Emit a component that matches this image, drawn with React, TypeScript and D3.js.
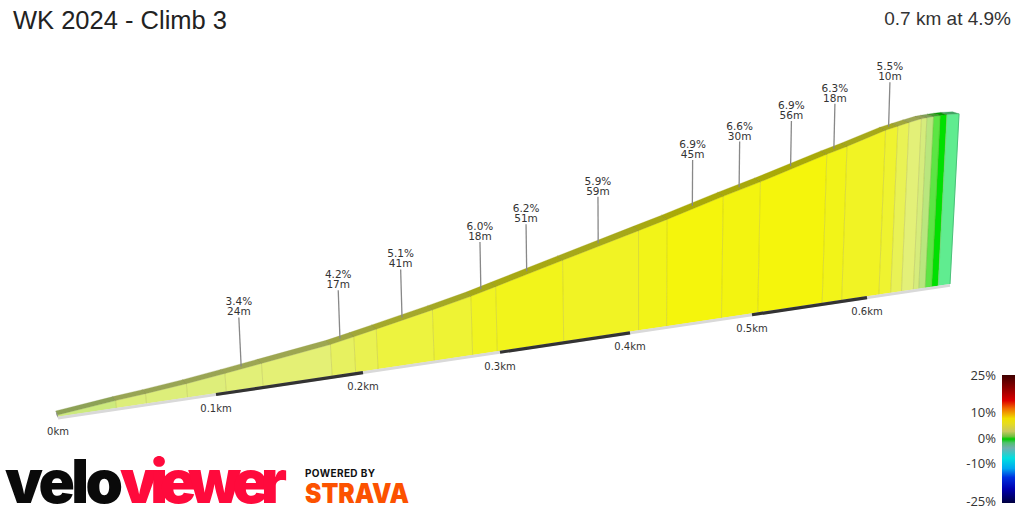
import React from "react";
import * as d3 from "d3";

const W = 1024, H = 512;

const titleText = "WK 2024 - Climb 3";
const summaryText = "0.7 km at 4.9%";

const boundaries = [0, .037, .056, .082, .107, .132, .179, .195, .211, .252, .28, .298, .349, .407, .43, .475, .505, .561, .578, .611, .622, .632, .643, .648, .654, .66, .666, .677];
const elevations = [.6, 1.72, 2.2, 2.96, 3.85, 4.75, 6.46, 7.3, 8.15, 10.3, 11.85, 13.05, 16.3, 19.95, 21.35, 24.3, 26.1, 29.65, 30.63, 32.75, 33.2, 33.6, 34, 34.05, 34.1, 34.1, 34.1, 33.9];
const grades = [2.2, 3, 3, 3.1, 3.4, 3.6, 4.2, 4.6, 5.1, 5.4, 6, 6.2, 5.9, 6.3, 6.9, 6.6, 6.9, 6.3, 5.9, 5.5, 4.5, 3.5, 2.5, 1.5, .5, 0, -1.5];

const calloutSegments = [4, 6, 8, 10, 11, 12, 14, 15, 16, 17, 19];
const calloutPercents = ["3.4%", "4.2%", "5.1%", "6.0%", "6.2%", "5.9%", "6.9%", "6.6%", "6.9%", "6.3%", "5.5%"];
const calloutLengths = ["24m", "17m", "41m", "18m", "51m", "59m", "45m", "30m", "56m", "18m", "10m"];

const kmTicks = [0, .1, .2, .3, .4, .5, .6];
const darkBands = [[.1, .2], [.3, .4], [.5, .6]];
const scaleTicks = [25, 10, 0, -10, -25];

const faceStops = [-1.5, 0, .5, 1.5, 2.5, 3.5, 4.5, 5.5, 6.5, 7];
const faceColors = ["#60ec90", "#00e000", "#5ce544", "#b9e67e", "#d6ec7c", "#e3f078", "#e9f255", "#eff330", "#f3f412", "#f5f50a"];
const legendStops = [25, 20, 15, 12, 8, 6, 3, 1, 0, -1.5, -3.5, -7.5, -11.5, -15, -19.5, -25];
const legendColors = ["#3f0000", "#8b0000", "#dd0000", "#f06a00", "#f0e000", "#e6dc20", "#c8c860", "#70c040", "#00cc00", "#50c070", "#70b0b0", "#00e0e0", "#00a8f0", "#0030e0", "#0000b0", "#000040"];

const xBase = d3.scaleLinear().domain([0, .1, .2, .3, .4, .5, .6, .677]).range([58, 216, 363, 500, 630, 752, 867, 950]);
const yFromX = d3.scaleLinear().domain([58, 950]).range([418, 285.3]);
const hScale = d3.scaleLinear().domain([0, 34]).range([0, 172]);
const depthX = d3.scaleLinear().domain([0, .1, .677]).range([-2, -4, -6.5]);
const depthY = d3.scaleLinear().domain([0, .4, .56, .677]).range([-4, -4.4, -3.4, -2]);
const calloutLen = d3.scaleLinear().domain([0, .677]).range([50, 44]);
const faceScale = d3.scaleLinear<string>().domain(faceStops).range(faceColors).interpolate(d3.interpolateRgb);
const legendY = d3.scaleLinear().domain([-25, 25]).range([501, 375]);

const leanOf = (x: number) => (x - 640) * 0.00017;
const basePt = (km: number): [number, number] => { const x = xBase(km); return [x, yFromX(x)]; };
const topPt = (km: number, e: number): [number, number] => {
  const x = xBase(km), h = hScale(e);
  return [x + leanOf(x) * h, yFromX(x) - h];
};
const backPt = (km: number, e: number): [number, number] => {
  const [x, y] = topPt(km, e);
  return [x + depthX(km), y + depthY(km)];
};
const poly = d3.line().curve(d3.curveLinearClosed);
const darken = (c: string, f: number) => {
  const r = d3.rgb(c);
  return d3.rgb(r.r * f, r.g * f, r.b * f).formatHex();
};

export default function App() {
  document.body.style.margin = "0";
  const segs = grades.map((g, i) => {
    const a = boundaries[i], b = boundaries[i + 1], ea = elevations[i], eb = elevations[i + 1];
    const [bax, bay] = basePt(a), [bbx, bby] = basePt(b);
    return {
      g,
      face: poly([topPt(a, ea), topPt(b, eb), [bbx, bby - 1.3], [bax, bay - 1.3]]) as string,
      ridge: poly([backPt(a, ea), backPt(b, eb), topPt(b, eb), topPt(a, ea)]) as string,
      seam: d3.line()([topPt(a, ea), [bax, bay - 1.3]]) as string,
      seamR: d3.line()([backPt(a, ea), topPt(a, ea)]) as string,
    };
  });
  const end = boundaries.length - 1;
  const startB = basePt(0), endB = basePt(boundaries[end]);
  const capStart = poly([backPt(0, elevations[0]), topPt(0, elevations[0]), startB, [startB[0] - 1.5, startB[1] - 3]]) as string;
  const band = (a: number, b: number) => d3.line()([basePt(a), basePt(b)]) as string;

  return (
    <svg width={W} height={H} viewBox={`0 0 ${W} ${H}`} style={{ position: "fixed", left: 0, top: 0, background: "#fff" }}>
      <defs>
        <linearGradient id="lg" x1="0" y1="0" x2="0" y2="1">
          {legendStops.map((s, i) => (
            <stop key={i} offset={(25 - s) / 50} stopColor={legendColors[i]} />
          ))}
        </linearGradient>
      </defs>
      <text x={13} y={29} fontFamily="Liberation Sans" fontSize={25.5} fill="#222">{titleText}</text>
      <text x={1011} y={25} textAnchor="end" fontFamily="Liberation Sans" fontSize={19} fill="#333">{summaryText}</text>

      {/* faces and ridge */}
      {segs.map((s, i) => (
        <g key={i}>
          <path d={s.face} fill={faceScale(s.g)} stroke={faceScale(s.g)} strokeWidth={0.3} />
          <path d={s.ridge} fill={darken(faceScale(s.g), 0.69)} stroke={darken(faceScale(s.g), 0.69)} strokeWidth={0.3} />
        </g>
      ))}
      {segs.map((s, i) => i > 0 && (
        <g key={i}>
          <path d={s.seam} stroke="#9a9a40" strokeOpacity={0.28} strokeWidth={1} fill="none" />
          <path d={s.seamR} stroke="#6a6a30" strokeOpacity={0.3} strokeWidth={1} fill="none" />
        </g>
      ))}
      <path d={capStart} fill="#777" />
      <path d={d3.line()([topPt(boundaries[end], elevations[end]), [endB[0], endB[1] - 1.3]]) as string} stroke="#4cc07a" strokeWidth={1} fill="none" />

      {/* base strip */}
      <path d={band(0, boundaries[end])} stroke="#d9d9d9" strokeWidth={2.8} fill="none" />
      {darkBands.map(([a, b], i) => (
        <path key={i} d={band(a, b)} stroke="#333" strokeWidth={3.2} fill="none" />
      ))}

      {/* callouts */}
      {calloutSegments.map((si, i) => {
        const km = (boundaries[si] + boundaries[si + 1]) / 2;
        const e = (elevations[si] + elevations[si + 1]) / 2;
        const f = topPt(km, e);
        const p: [number, number] = [f[0] + depthX(km) / 2, f[1] + depthY(km) / 2];
        const len = calloutLen(km);
        const tx = p[0] + leanOf(p[0]) * len * 0.7, ty = p[1] - len;
        return (
          <g key={i}>
            <line x1={p[0]} y1={p[1]} x2={tx} y2={ty} stroke="#888" strokeWidth={1.3} />
            <text x={tx} y={ty - 12} textAnchor="middle" fontFamily="DejaVu Sans" fontSize={10.5} fill="#333">{calloutPercents[i]}</text>
            <text x={tx} y={ty - 2} textAnchor="middle" fontFamily="DejaVu Sans" fontSize={10.5} fill="#333">{calloutLengths[i]}</text>
          </g>
        );
      })}

      {/* km labels */}
      {kmTicks.map((k) => {
        const [x, y] = basePt(k);
        return (
          <text key={k} x={x} y={y + 17.3} textAnchor="middle" fontFamily="DejaVu Sans" fontSize={10} fill="#333">
            {k === 0 ? "0km" : `${k}km`}
          </text>
        );
      })}

      {/* legend */}
      <rect x={1002} y={375} width={13} height={128} fill="url(#lg)" />
      {scaleTicks.map((t) => (
        <text key={t} x={996} y={legendY(t) + 4.5} textAnchor="end" fontFamily="Open Sans" fontSize={13} fill="#333">{`${t}%`}</text>
      ))}

      {/* logos */}
      <text x={5} y={503} fontFamily="Inter" fontWeight={900} fontSize={60} fill="#0a0a0a" textLength={118} lengthAdjust="spacing">velo</text>
      <text x={120} y={503} fontFamily="Inter" fontWeight={900} fontSize={60} fill="#ff0a3c" textLength={167} lengthAdjust="spacing">viewer</text>
      <text x={305} y={477} fontFamily="Inter" fontWeight={700} fontSize={10} fill="#111" textLength={70} lengthAdjust="spacing">POWERED BY</text>
      <text x={305} y={503} fontFamily="Inter" fontWeight={900} fontSize={27} fill="#fc5200" textLength={104} lengthAdjust="spacingAndGlyphs">STRAVA</text>
    </svg>
  );
}
